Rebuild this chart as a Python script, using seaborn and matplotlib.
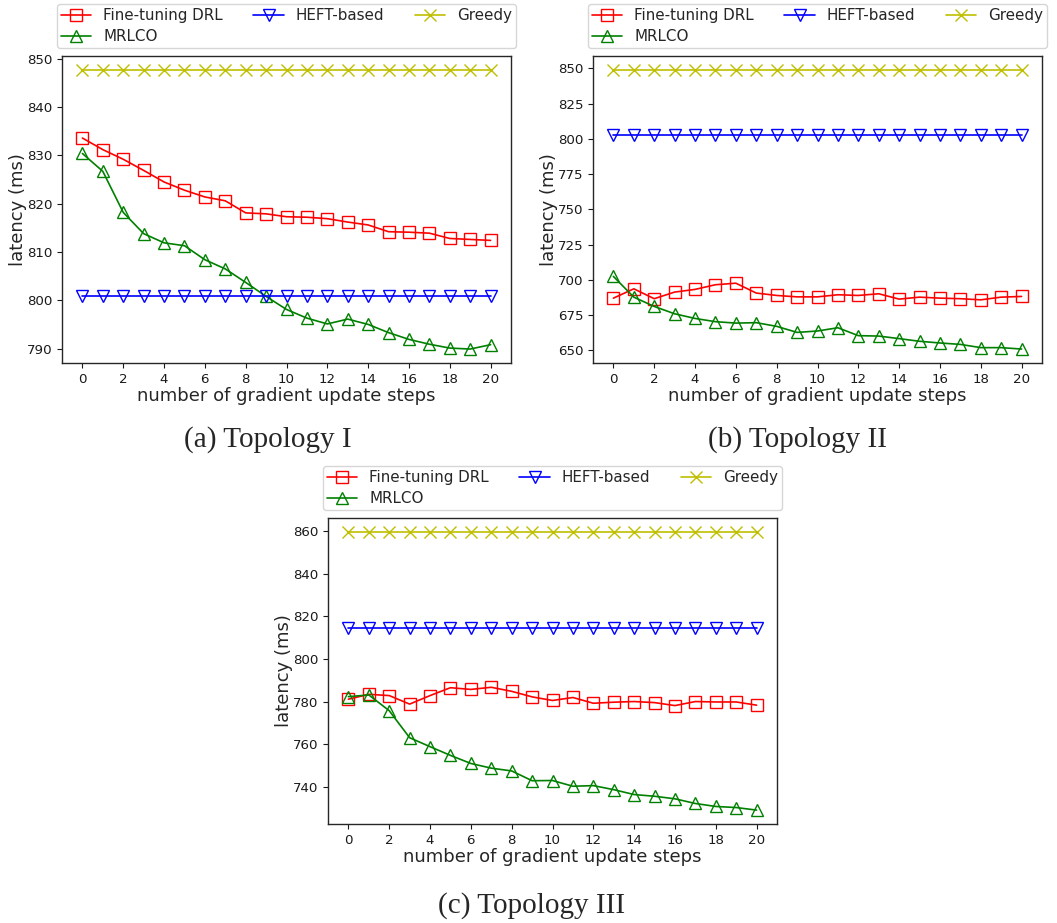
import numpy as np
import pandas as pd
import matplotlib
matplotlib.use("Agg")
import matplotlib.pyplot as plt
import seaborn as sns

steps = list(range(21))

# Topology I
finetune_a = [833.6, 831.2, 829.2, 826.9, 824.5, 822.8, 821.4, 820.6, 818.1, 817.9, 817.3,
              817.2, 816.9, 816.2, 815.6, 814.2, 814.1, 813.9, 812.8, 812.6, 812.4]
mrlco_a = [830.4, 826.7, 818.2, 813.8, 811.9, 811.3, 808.4, 806.5, 803.7, 800.8, 798.1,
           796.3, 795.1, 796.1, 795.0, 793.3, 791.9, 790.9, 790.1, 789.9, 790.8]
heft_a = [800.8] * 21
greedy_a = [847.7] * 21

# Topology II
finetune_b = [687.0, 693.6, 686.6, 691.3, 693.2, 696.5, 697.6, 690.6, 688.9, 687.9, 687.9,
              689.4, 688.9, 690.1, 686.3, 687.7, 687.0, 686.6, 685.8, 687.7, 688.2]
mrlco_b = [702.4, 687.7, 681.1, 675.9, 672.6, 670.3, 669.3, 669.6, 667.0, 662.7, 663.7,
           666.0, 660.4, 660.1, 658.3, 656.4, 655.2, 654.2, 651.9, 651.9, 650.9]
heft_b = [802.4] * 21
greedy_b = [848.8] * 21

# Topology III
finetune_c = [781.1, 783.4, 782.8, 778.8, 782.8, 786.5, 785.7, 786.7, 784.8, 782.2, 780.5,
              781.9, 779.2, 779.7, 780.0, 779.5, 778.1, 780.0, 779.8, 779.8, 778.3]
mrlco_c = [782.3, 783.1, 775.7, 763.0, 758.8, 754.7, 750.9, 748.7, 747.4, 742.8, 742.9,
           740.2, 740.5, 738.6, 736.3, 735.5, 734.3, 732.1, 730.7, 730.2, 729.0]
heft_c = [814.4] * 21
greedy_c = [859.7] * 21

methods = ["Fine-tuning DRL", "MRLCO", "HEFT-based", "Greedy"]
colors = ["red", "green", "blue", "#bfbf00"]
markers = ["s", "^", "v", "x"]

panels = [
    ("(a) Topology I", [finetune_a, mrlco_a, heft_a, greedy_a]),
    ("(b) Topology II", [finetune_b, mrlco_b, heft_b, greedy_b]),
    ("(c) Topology III", [finetune_c, mrlco_c, heft_c, greedy_c]),
]

sns.set_style("ticks")
plt.rcParams["font.family"] = ["DejaVu Sans"]
plt.rcParams["axes.edgecolor"] = "0.15"
plt.rcParams["axes.linewidth"] = 1.0

W, H = 1057, 923
fig = plt.figure(figsize=(W / 100, H / 100), dpi=100)

# axes boxes in pixels: left, top, right, bottom
boxes = [(62, 56, 511, 363), (593, 56, 1042, 363), (328, 518, 777, 824)]
captions_xy = [(268, 447), (797, 447), (532, 913)]

for (title, series), box, cap in zip(panels, boxes, captions_xy):
    l, t, r, b = box
    ax = fig.add_axes([l / W, 1 - b / H, (r - l) / W, (b - t) / H])
    for name, vals, c, m in zip(methods, series, colors, markers):
        df = pd.DataFrame({"step": steps, "latency": vals})
        sns.lineplot(data=df, x="step", y="latency", ax=ax, color=c, marker=m,
                     markersize=9.2, markerfacecolor="none", markeredgecolor=c,
                     markeredgewidth=1.0, linewidth=1.2, label=name)
    ax.set_xticks(range(0, 21, 2))
    ax.tick_params(axis="both", labelsize=9.6, length=3.5, width=0.8, colors="0.1")
    ax.set_xlabel("number of gradient update steps", fontsize=13, labelpad=1)
    ax.set_ylabel("latency (ms)", fontsize=13, labelpad=-0.5)
    ax.legend(loc="lower center", bbox_to_anchor=(0.5, 1.0), ncol=3,
              fontsize=10.9, frameon=True, borderaxespad=0.5, handlelength=2.0,
              labelspacing=0.38, borderpad=0.3)
    fig.text(cap[0] / W, 1 - cap[1] / H, title, ha="center", va="baseline",
             fontsize=21, family="Liberation Serif")

fig.savefig("out.png", dpi=100)
